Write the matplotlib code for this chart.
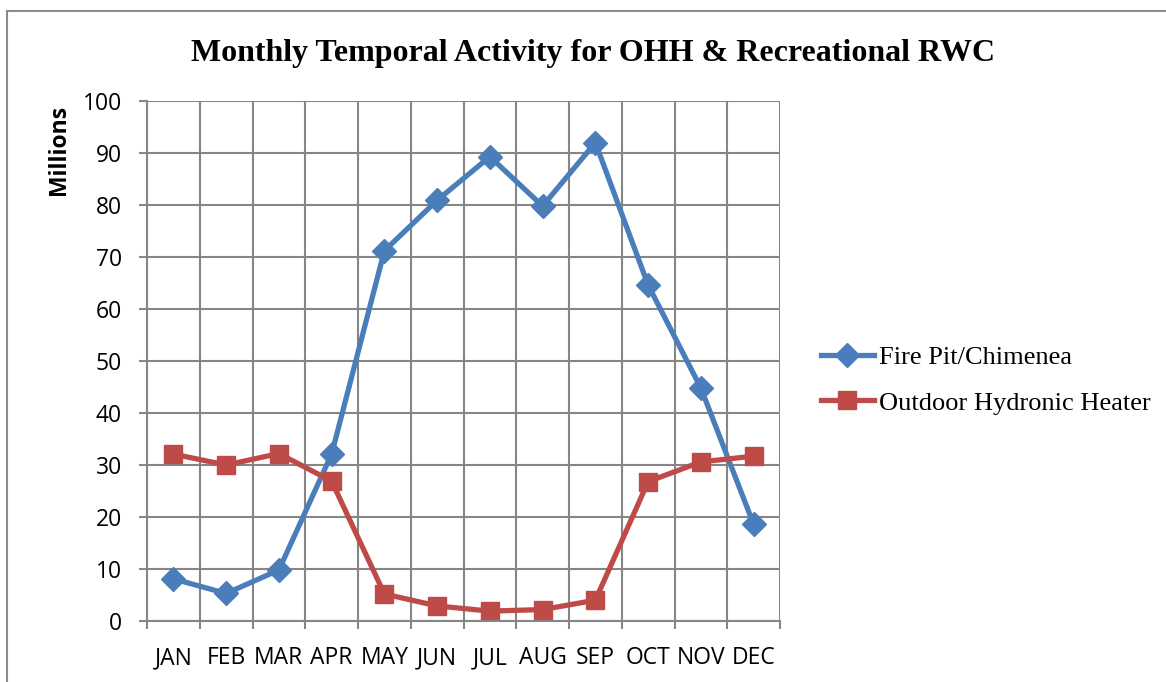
import numpy as np
import matplotlib.pyplot as plt
from matplotlib.patches import Rectangle

months = ["JAN", "FEB", "MAR", "APR", "MAY", "JUN",
          "JUL", "AUG", "SEP", "OCT", "NOV", "DEC"]
fire_pit = [8.1, 5.3, 9.8, 32.1, 71.2, 80.9, 89.3, 79.8, 92.0, 64.6, 44.8, 18.6]
hydronic = [32.1, 30.0, 32.2, 26.9, 5.2, 2.9, 1.9, 2.2, 4.0, 26.8, 30.6, 31.7]

fig = plt.figure(figsize=(11.66, 6.82), dpi=100)
ax = fig.add_axes([147/1166, 1 - 621/682, (780 - 147)/1166, (621 - 101)/682])

# outer chart frame
fig.patches.append(Rectangle((7/1166, -0.05), 1.2, 1 - 11/682 + 0.05,
                             transform=fig.transFigure, fill=False,
                             edgecolor="#8c8c8c", linewidth=1.5))

x = np.arange(len(months))
ax.plot(x, fire_pit, color="#4a7ebb", lw=3.8, marker="D", ms=12,
        label="Fire Pit/Chimenea")
ax.plot(x, hydronic, color="#be4b48", lw=3.8, marker="s", ms=13,
        label="Outdoor Hydronic Heater")

ax.set_xlim(-0.5, 11.5)
ax.set_ylim(0, 100)
ax.set_yticks(range(0, 101, 10))
ax.set_xticks(x)
ax.set_xticklabels(months)
ax.set_xticks(np.arange(-0.5, 12, 1), minor=True)
ax.tick_params(axis="x", which="major", length=0, pad=18)
ax.tick_params(axis="x", which="minor", length=6, color="#868686", width=1.5)
ax.tick_params(axis="y", length=6, color="#868686", width=1.5, pad=12)
for lab in ax.get_xticklabels() + ax.get_yticklabels():
    lab.set_fontfamily("Open Sans")
    lab.set_fontsize(16.5)

ax.grid(False)
ax.yaxis.grid(True, color="#868686", lw=1.5)
ax.xaxis.grid(True, which="minor", color="#868686", lw=1.5)
ax.set_axisbelow(True)
for s in ax.spines.values():
    s.set_color("#868686")
    s.set_linewidth(1.5)
ax.spines["top"].set_visible(False)
ax.spines["right"].set_visible(False)

fig.text(0.509, 1 - 54/682, "Monthly Temporal Activity for OHH & Recreational RWC",
         ha="center", va="center", family="Liberation Serif",
         weight="bold", fontsize=23)
fig.text(59/1166, 1 - 150/682, "Millions", rotation=90, ha="center", va="center",
         family="Open Sans", weight="bold", fontsize=16.5)

ax.legend(loc="center left", bbox_to_anchor=(797/1166, 1 - 380/682),
          bbox_transform=fig.transFigure, frameon=False,
          prop={"family": "Liberation Serif", "size": 19},
          handlelength=2.0, handletextpad=0.2, labelspacing=0.85)

fig.savefig("out.png", dpi=100)
